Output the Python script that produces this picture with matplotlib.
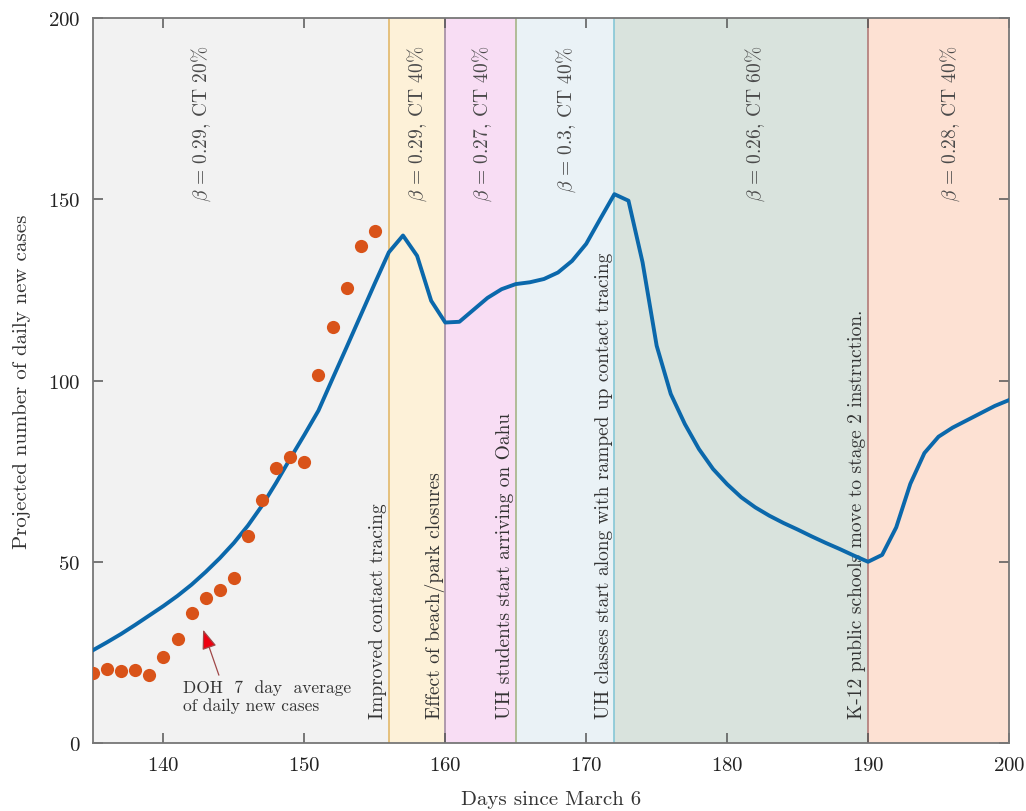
import numpy as np
import matplotlib
matplotlib.use("Agg")
import matplotlib.pyplot as plt

plt.rcParams["font.family"] = "serif"
plt.rcParams["font.serif"] = ["cmr10"]
plt.rcParams["mathtext.fontset"] = "cm"
plt.rcParams["axes.formatter.use_mathtext"] = True

# model projection (daily values)
model_days = np.arange(135, 201)
model_cases = [25.6, 27.8, 30.1, 32.6, 35.2, 37.8, 40.6, 43.7, 47.2, 51.0,
               55.2, 60.0, 65.5, 71.8, 78.5, 85.0, 91.7, 100.5, 109.2, 118.0,
               126.8, 135.4, 140.0, 134.4, 122.0, 116.0, 116.2, 119.5, 122.8, 125.2,
               126.6, 127.1, 128.0, 129.8, 133.0, 137.7, 144.6, 151.4, 149.6, 132.6,
               109.6, 96.3, 88.0, 81.1, 75.6, 71.4, 67.8, 65.0, 62.7, 60.7,
               58.9, 57.0, 55.2, 53.5, 51.7, 50.0, 51.9, 59.5, 71.5, 80.0,
               84.5, 87.0, 89.0, 91.0, 93.0, 94.6]

# DOH 7 day average
doh_days = np.arange(135, 156)
doh_cases = [19.3, 20.4, 19.8, 20.2, 18.8, 23.6, 28.7, 35.9, 40.1, 42.1,
             45.5, 57.0, 67.1, 75.8, 78.8, 77.4, 101.6, 114.8, 125.5, 137.1,
             141.2]

# policy periods
period_edges = [135, 156, 160, 165, 172, 190, 200]
period_colors = ["#f2f2f2", "#fdf1d8", "#f8ddf4", "#eaf2f6", "#d9e3dd", "#fde1d3"]
edge_colors = ["#e2b86a", "#a28ca2", "#a6b487", "#86c7d6", "#b27a78"]
period_labels = [r"$\beta\,=\,0.29$, CT 20%", r"$\beta\,=\,0.29$, CT 40%",
                 r"$\beta\,=\,0.27$, CT 40%", r"$\beta\,=\,0.3$, CT 40%",
                 r"$\beta\,=\,0.26$, CT 60%", r"$\beta\,=\,0.28$, CT 40%"]
period_label_x = [142.7, 158.0, 162.6, 168.6, 182.0, 195.8]

event_days = [156, 160, 165, 172, 190]
event_labels = ["Improved contact tracing",
                "Effect of beach/park closures",
                "UH students start arriving on Oahu",
                "UH classes start along with ramped up contact tracing",
                "K-12 public schools move to stage 2 instruction."]

fig = plt.figure(figsize=(10.26, 8.12), dpi=100)
ax = fig.add_axes([0.0906, 0.0837, 0.8928, 0.8929])

for i in range(len(period_colors)):
    ax.axvspan(period_edges[i], period_edges[i + 1], color=period_colors[i], lw=0, zorder=0)
    ax.text(period_label_x[i], 192.5, period_labels[i], rotation=90, ha="center", va="top",
            fontsize=14, color="#4a4a4a")
for d, c, lab in zip(event_days, edge_colors, event_labels):
    ax.axvline(d, color=c, lw=1.2, zorder=1)
    ax.text(d - 0.75, 7.0, lab, rotation=90, ha="center", va="bottom", fontsize=14, color="#333333")

ax.plot(model_days, model_cases, color="#0b68ab", lw=2.8, zorder=3)
ax.plot(doh_days, doh_cases, "o", color="#d95319", ms=9.5, mec="none", zorder=4)

ax.annotate("", xy=(142.75, 32.0), xytext=(144.0, 18.0),
            arrowprops=dict(arrowstyle="-|>,head_length=1.2,head_width=0.45",
                            fc="#ee0010", ec="#a04848", lw=0.9))
ax.text(141.4, 17.6, "DOH  7  day  average\nof daily new cases", ha="left", va="top",
        fontsize=12.5, color="#333333", linespacing=1.15)

ax.set_xlim(135, 200)
ax.set_ylim(0, 200)
ax.set_xticks([140, 150, 160, 170, 180, 190, 200])
ax.set_yticks([0, 50, 100, 150, 200])
ax.tick_params(direction="in", length=7, width=1.1, top=True, right=True,
               labelsize=15, colors="#555555", labelcolor="#222222", pad=9)
for s in ax.spines.values():
    s.set_color("#777777")
    s.set_linewidth(1.3)
ax.set_xlabel("Days since March 6", fontsize=15, color="#333333", labelpad=12)
ax.set_ylabel("Projected number of daily new cases", fontsize=15, color="#333333", labelpad=12)

fig.savefig("out.png", dpi=100)
